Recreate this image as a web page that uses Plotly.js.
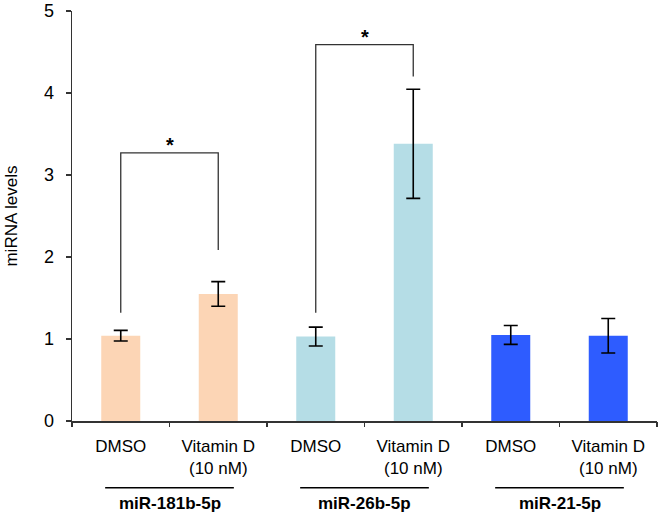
<!DOCTYPE html>
<html>
<head>
<meta charset="utf-8">
<script src="https://cdn.plot.ly/plotly-3.0.1.min.js"></script>
<style>html,body{margin:0;padding:0;background:#fff}#chart{width:661px;height:516px}</style>
</head>
<body>
<div id="chart"></div>
<script>
// Data
var categories = ["DMSO|181b", "VitD|181b", "DMSO|26b", "VitD|26b", "DMSO|21", "VitD|21"];
var tickLabels = ["DMSO", "Vitamin D<br>(10 nM)", "DMSO", "Vitamin D<br>(10 nM)", "DMSO", "Vitamin D<br>(10 nM)"];
var values = [1.04, 1.55, 1.03, 3.38, 1.05, 1.04];
var errors = [0.065, 0.15, 0.115, 0.665, 0.115, 0.21];
var barColors = ["#FCD5B5", "#FCD5B5", "#B5DDE6", "#B5DDE6", "#2E5CFF", "#2E5CFF"];
var groupLabels = ["miR-181b-5p", "miR-26b-5p", "miR-21-5p"];
// significance brackets: [left index, right index, left bottom, top, right bottom]
var brackets = [[0, 1, 1.32, 3.27, 2.085], [2, 3, 1.32, 4.59, 4.2]];

var FONT = "Arial, 'Liberation Sans', Helvetica, sans-serif";

var trace = {
  type: "bar",
  x: [0, 1, 2, 3, 4, 5],
  y: values,
  width: 0.4,
  marker: {color: barColors, line: {width: 0}},
  error_y: {type: "data", array: errors, visible: true, color: "#000", thickness: 1.6, width: 7},
  hoverinfo: "skip"
};

var shapes = [];
var annotations = [];
brackets.forEach(function (b) {
  var l = b[0], r = b[1];
  shapes.push({type: "path", xref: "x", yref: "y",
    path: "M " + l + "," + b[2] + " L " + l + "," + b[3] + " L " + r + "," + b[3] + " L " + r + "," + b[4],
    line: {color: "#333", width: 1.3}});
  annotations.push({xref: "x", yref: "y", x: (l + r) / 2, y: b[3], text: "<b>*</b>", showarrow: false,
    yanchor: "bottom", yshift: -5, font: {family: FONT, size: 20, color: "#000"}});
});
groupLabels.forEach(function (g, i) {
  var c = 2 * i + 0.5;
  shapes.push({type: "line", xref: "x", yref: "paper", x0: c - 0.66, x1: c + 0.66, y0: -0.163, y1: -0.163,
    line: {color: "#000", width: 1.5}});
  annotations.push({xref: "x", yref: "paper", x: c, y: -0.172, text: "<b>" + g + "</b>", showarrow: false,
    yanchor: "top", font: {family: FONT, size: 17, color: "#000"}});
});

var layout = {
  width: 661, height: 516,
  margin: {l: 72, r: 4, t: 11, b: 95},
  paper_bgcolor: "#fff", plot_bgcolor: "#fff",
  showlegend: false,
  font: {family: FONT, color: "#000"},
  xaxis: {
    range: [-0.5, 5.5], tickmode: "array", tickvals: [0, 1, 2, 3, 4, 5], ticktext: tickLabels,
    showgrid: false, zeroline: false, showline: true, linecolor: "#333", linewidth: 1.5,
    ticks: "", tickfont: {family: FONT, size: 17, color: "#000"}, ticklabelstandoff: 9, fixedrange: true
  },
  xaxis2: {
    overlaying: "x", anchor: "y", side: "bottom", range: [-0.5, 5.5], tickmode: "array",
    tickvals: [-0.5, 0.5, 1.5, 2.5, 3.5, 4.5, 5.5], showticklabels: false, ticks: "outside", ticklen: 5,
    tickcolor: "#333", tickwidth: 1.5, showgrid: false, zeroline: false, showline: false
  },
  yaxis: {
    range: [0, 5], tickmode: "array", tickvals: [0, 1, 2, 3, 4, 5],
    showgrid: false, zeroline: false, showline: true, linecolor: "#333", linewidth: 1.5,
    ticks: "outside", ticklen: 5, tickcolor: "#333", tickwidth: 1.5,
    tickfont: {family: FONT, size: 18, color: "#000"}, ticklabelstandoff: 8,
    title: {text: "miRNA levels", font: {family: FONT, size: 17, color: "#000"}, standoff: 22}
  },
  shapes: shapes,
  annotations: annotations
};

var dummy = {type: "scatter", x: [-0.5], y: [0], xaxis: "x2", yaxis: "y", mode: "markers",
  marker: {opacity: 0}, hoverinfo: "skip"};

Plotly.newPlot("chart", [trace, dummy], layout, {staticPlot: true});
</script>
</body>
</html>
